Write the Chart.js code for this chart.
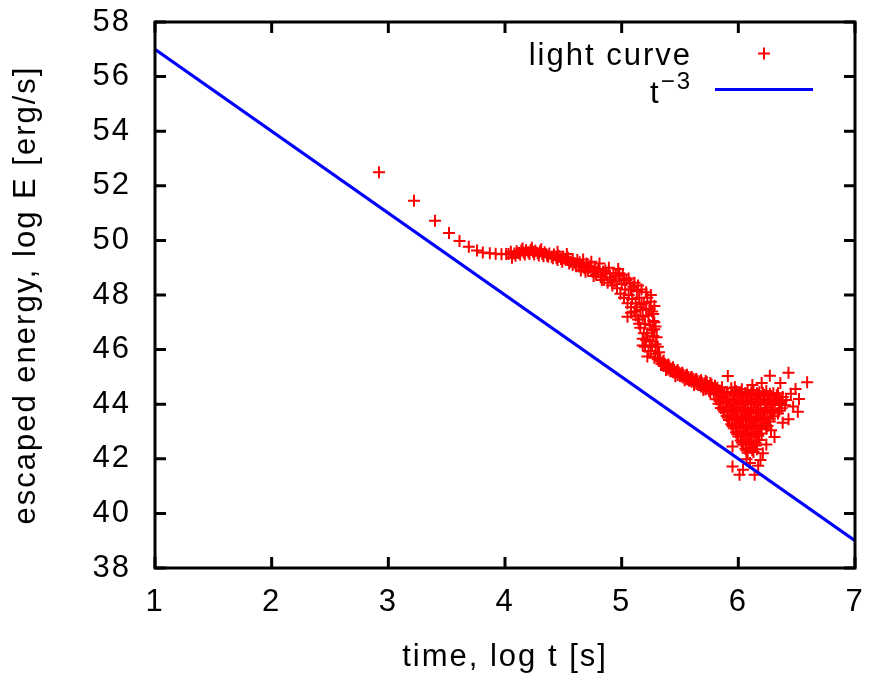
<!DOCTYPE html>
<html>
<head>
<meta charset="utf-8">
<script src="https://cdn.jsdelivr.net/npm/chart.js@4/dist/chart.umd.min.js"></script>
<style>
html, body { margin: 0; padding: 0; background: #fff; }
#zone { width: 871px; height: 685px; }
</style>
</head>
<body>
<div id="zone"><canvas id="graphe" width="871" height="685"></canvas></div>
<script>
// Graduations des axes
var V_xTicks = [1, 2, 3, 4, 5, 6, 7];
var V_yTicks = [38, 40, 42, 44, 46, 48, 50, 52, 54, 56, 58];

// Droite t^-3 (log t, log E)
var V_droiteT = [1, 7];
var V_droiteE = [57, 39];

// Courbe de lumière : [log t, log E]
var V_lightCurve = [
    [2.92, 52.50], [3.22, 51.45], [3.40, 50.72], [3.52, 50.27], [3.61, 49.98], [3.69, 49.77],
    [3.76, 49.63], [3.81, 49.56], [3.87, 49.53], [3.92, 49.51], [3.97, 49.49], [4.01, 49.50],
    [4.06, 49.36],
    [4.03, 49.50], [4.05, 49.58], [4.08, 49.52], [4.10, 49.60], [4.12, 49.54], [4.14, 49.63],
    [4.16, 49.56], [4.18, 49.64], [4.20, 49.57], [4.22, 49.65], [4.24, 49.58], [4.26, 49.62],
    [4.28, 49.53], [4.30, 49.60], [4.32, 49.50], [4.34, 49.57], [4.36, 49.45], [4.38, 49.52],
    [4.40, 49.40], [4.42, 49.48], [4.44, 49.36], [4.46, 49.44], [4.48, 49.32], [4.50, 49.40],
    [4.52, 49.28], [4.53, 49.50], [4.54, 49.36], [4.56, 49.22], [4.58, 49.32], [4.60, 49.16],
    [4.62, 49.28], [4.63, 49.05], [4.64, 49.20], [4.66, 49.10], [4.67, 49.30], [4.68, 48.98],
    [4.70, 49.15], [4.71, 48.90], [4.73, 49.05], [4.74, 49.22], [4.75, 48.85], [4.77, 49.00],
    [4.78, 48.75], [4.80, 48.95], [4.81, 49.15], [4.82, 48.65], [4.84, 48.85], [4.85, 48.55],
    [4.87, 48.78], [4.88, 48.45], [4.89, 49.00], [4.90, 48.65], [4.92, 48.35], [4.93, 48.80],
    [4.94, 48.50], [4.96, 48.25], [4.97, 48.95], [4.98, 48.60], [4.99, 48.05], [5.00, 48.40],
    [5.01, 48.75], [5.02, 47.90], [5.03, 48.20], [5.04, 48.55], [5.05, 47.70], [5.05, 47.20],
    [5.06, 48.00], [5.07, 48.45], [5.08, 47.55], [5.09, 47.85], [5.10, 48.30], [5.11, 47.40],
    [5.12, 47.70], [5.13, 48.15], [5.13, 47.55], [5.14, 47.10], [5.15, 47.90], [5.16, 46.80],
    [5.16, 47.45], [5.17, 48.20], [5.18, 46.40], [5.18, 47.20], [5.19, 47.70], [5.20, 46.95],
    [5.20, 46.10], [5.21, 47.50], [5.21, 48.10], [5.22, 46.60], [5.22, 45.75], [5.23, 47.25],
    [5.24, 46.30], [5.24, 46.90], [5.25, 47.75], [5.25, 45.95], [5.26, 47.40], [5.25, 48.00],
    [5.27, 46.50], [5.27, 47.05], [5.28, 45.70], [5.28, 46.75], [5.27, 47.30], [5.29, 46.20],
    [5.28, 47.00], [5.30, 46.45], [5.31, 45.65], [5.29, 46.85], [5.32, 45.90], [5.31, 46.10],
    [4.09, 49.44], [4.13, 49.47], [4.17, 49.48], [4.21, 49.50], [4.25, 49.48], [4.29, 49.45],
    [4.33, 49.42], [4.37, 49.40], [4.41, 49.35], [4.45, 49.28], [4.49, 49.22], [4.15, 49.70],
    [4.23, 49.73], [4.31, 49.68], [4.45, 49.58],
    [4.55, 49.15], [4.58, 49.10], [4.61, 49.05], [4.65, 48.90], [4.69, 48.85], [4.72, 49.00],
    [4.76, 48.70], [4.79, 48.85], [4.83, 48.55], [4.86, 48.90], [4.91, 48.55], [4.95, 48.70],
    [4.98, 48.80], [5.02, 48.55], [5.06, 48.60], [5.08, 48.20], [5.11, 48.45], [5.14, 48.35],
    [5.17, 47.65], [5.19, 46.60], [5.21, 46.35], [5.23, 45.95], [5.26, 46.15], [5.29, 45.85],
    [5.08, 47.35], [5.12, 47.25], [5.15, 46.95], [5.18, 46.15], [5.26, 46.70], [5.24, 47.50],
    [5.28, 47.60], [5.22, 47.90],
    [5.33, 45.58], [5.34, 45.48], [5.35, 45.55], [5.36, 45.40], [5.37, 45.47], [5.38, 45.33],
    [5.39, 45.41], [5.40, 45.27], [5.41, 45.35], [5.42, 45.22], [5.43, 45.30], [5.44, 45.17],
    [5.45, 45.25], [5.46, 45.12], [5.47, 45.20], [5.48, 45.07], [5.49, 45.16], [5.50, 45.03],
    [5.51, 45.12], [5.52, 44.99], [5.53, 45.08], [5.54, 44.95], [5.55, 45.04], [5.56, 44.91],
    [5.57, 45.00], [5.58, 44.86], [5.59, 44.97], [5.60, 44.82], [5.61, 44.93], [5.62, 44.78],
    [5.63, 44.90], [5.64, 44.74], [5.65, 44.86], [5.66, 44.70], [5.67, 44.83], [5.68, 44.65],
    [5.69, 44.79], [5.70, 44.60], [5.71, 44.76], [5.72, 44.55], [5.73, 44.80], [5.74, 44.66],
    [5.75, 44.48], [5.77, 44.72], [5.78, 44.58], [5.80, 44.68], [5.82, 44.60],
    [5.36, 45.60], [5.40, 45.45], [5.44, 45.35], [5.48, 45.25], [5.52, 45.15], [5.56, 45.08],
    [5.60, 45.00], [5.64, 44.92], [5.68, 44.88], [5.72, 44.85], [5.76, 44.78], [5.80, 44.55],
    [5.38, 45.25], [5.46, 45.02], [5.54, 44.88], [5.62, 44.70], [5.70, 44.52],
    [5.83, 44.50], [5.86, 44.62], [5.90, 44.45], [5.94, 44.58], [5.98, 44.48], [6.03, 44.55],
    [6.08, 44.46], [6.13, 44.52], [6.18, 44.44], [6.24, 44.48], [6.30, 44.40],
    [5.79, 44.36], [5.85, 44.30], [5.91, 44.38], [5.97, 44.32], [6.02, 44.36], [6.07, 44.30],
    [6.12, 44.37], [6.17, 44.31], [6.22, 44.35], [6.28, 44.28], [6.33, 44.33], [6.38, 44.26],
    [5.81, 44.18], [5.87, 44.22], [5.93, 44.15], [5.99, 44.20], [6.04, 44.14], [6.10, 44.21],
    [6.15, 44.16], [6.21, 44.19], [6.26, 44.13], [6.32, 44.17], [6.37, 44.12], [6.41, 44.15],
    [5.83, 44.02], [5.89, 44.06], [5.95, 44.00], [6.00, 44.05], [6.06, 43.99], [6.11, 44.04],
    [6.17, 43.98], [6.23, 44.03], [6.29, 43.97], [6.35, 44.02], [6.40, 43.96],
    [5.85, 43.86], [5.91, 43.90], [5.97, 43.84], [6.02, 43.89], [6.08, 43.83], [6.13, 43.88],
    [6.19, 43.82], [6.25, 43.87], [6.31, 43.81], [6.37, 43.85],
    [5.88, 43.72], [5.94, 43.75], [5.99, 43.69], [6.05, 43.74], [6.10, 43.68], [6.16, 43.73],
    [6.22, 43.67], [6.28, 43.72], [6.34, 43.66],
    [5.90, 43.57], [5.96, 43.60], [6.02, 43.54], [6.07, 43.59], [6.13, 43.53], [6.19, 43.58],
    [6.25, 43.52], [6.30, 43.56],
    [5.92, 43.42], [5.98, 43.45], [6.04, 43.39], [6.09, 43.44], [6.15, 43.38], [6.21, 43.43],
    [6.27, 43.37],
    [5.94, 43.27], [6.00, 43.30], [6.06, 43.24], [6.11, 43.29], [6.17, 43.23], [6.23, 43.28],
    [5.96, 43.12], [6.02, 43.15], [6.08, 43.09], [6.13, 43.14], [6.19, 43.08], [6.24, 43.12],
    [5.98, 42.97], [6.04, 43.00], [6.09, 42.94], [6.15, 42.99], [6.20, 42.93],
    [6.00, 42.82], [6.05, 42.85], [6.11, 42.79], [6.17, 42.84],
    [6.02, 42.67], [6.07, 42.70], [6.13, 42.64], [6.18, 42.69],
    [6.04, 42.52], [6.09, 42.55], [6.15, 42.49],
    [6.06, 42.37], [6.11, 42.40], [6.16, 42.35],
    [6.08, 42.22], [6.13, 42.25],
    [5.76, 44.40], [5.82, 44.45], [5.88, 44.40], [5.95, 44.42], [6.01, 44.44], [6.06, 44.41],
    [6.11, 44.43], [6.16, 44.40], [6.21, 44.42], [6.27, 44.38], [6.34, 44.40],
    [5.84, 44.12], [5.90, 44.10], [5.96, 44.12], [6.02, 44.09], [6.08, 44.11], [6.14, 44.08],
    [6.19, 44.10], [6.25, 44.07], [6.31, 44.09], [6.36, 44.06],
    [5.87, 43.80], [5.93, 43.81], [5.99, 43.79], [6.05, 43.80], [6.11, 43.78], [6.17, 43.79],
    [6.23, 43.77], [6.29, 43.78], [6.35, 43.76],
    [5.91, 43.50], [5.97, 43.51], [6.03, 43.49], [6.09, 43.50], [6.15, 43.48], [6.21, 43.49],
    [6.27, 43.47],
    [5.95, 43.20], [6.01, 43.21], [6.07, 43.19], [6.13, 43.20], [6.19, 43.18], [6.25, 43.20],
    [5.99, 42.90], [6.05, 42.91], [6.11, 42.89], [6.17, 42.90],
    [6.03, 42.60], [6.09, 42.61], [6.15, 42.59],
    [6.07, 42.30], [6.12, 42.31],
    [5.91, 45.03], [6.27, 45.04], [6.43, 45.15], [6.59, 44.80], [6.36, 44.78], [6.12, 44.70],
    [6.49, 44.56], [6.52, 44.19], [6.51, 43.72], [6.43, 43.45], [6.31, 42.80], [5.95, 42.45],
    [5.95, 41.72], [6.01, 41.42], [6.14, 41.42], [6.19, 41.96], [6.10, 41.85], [6.07, 41.98],
    [5.97, 44.62], [6.20, 44.78], [6.45, 44.38], [6.47, 43.92], [6.38, 43.32], [6.28, 43.05],
    [6.24, 42.52], [6.21, 42.20], [6.17, 41.75], [6.04, 41.60]
];

var S_police = '"Liberation Sans", Arial, Helvetica, sans-serif';

function F_points(V_liste){
    var V_res = [];
    for (var I_i = 0; I_i < V_liste.length; I_i++){ V_res.push({x: V_liste[I_i][0], y: V_liste[I_i][1]}); }
    return V_res;
}

function F_droite(){
    var V_res = [];
    for (var I_i = 0; I_i < V_droiteT.length; I_i++){ V_res.push({x: V_droiteT[I_i], y: V_droiteE[I_i]}); }
    return V_res;
}

// Cadre, ticks intérieurs et légende façon gnuplot
var O_cadre = {
    id: 'cadre',
    beforeUpdate: function(chart){ chart.ctx.letterSpacing = '2px'; },
    beforeDraw: function(chart){ chart.ctx.letterSpacing = '2px'; },
    afterDraw: function(chart){
        var ctx = chart.ctx;
        var a = chart.chartArea;
        var sx = chart.scales.x, sy = chart.scales.y;
        ctx.save();
        ctx.strokeStyle = '#000';
        ctx.lineWidth = 3;
        ctx.beginPath();
        V_xTicks.forEach(function(v){
            var p = sx.getPixelForValue(v);
            ctx.moveTo(p, a.bottom); ctx.lineTo(p, a.bottom - 11);
            ctx.moveTo(p, a.top); ctx.lineTo(p, a.top + 11);
        });
        V_yTicks.forEach(function(v){
            var p = sy.getPixelForValue(v);
            ctx.moveTo(a.left, p); ctx.lineTo(a.left + 11, p);
            ctx.moveTo(a.right, p); ctx.lineTo(a.right - 11, p);
        });
        ctx.stroke();
        ctx.strokeRect(a.left, a.top, a.right - a.left, a.bottom - a.top);

        // légende
        ctx.fillStyle = '#000';
        ctx.letterSpacing = '2px';
        ctx.textAlign = 'right';
        ctx.textBaseline = 'alphabetic';
        ctx.font = '31px ' + S_police;
        ctx.fillText('light curve', a.right - 163, a.top + 43);
        ctx.font = '24px ' + S_police;
        ctx.fillText('\u22123', a.right - 163, a.top + 67);
        var I_w = ctx.measureText('\u22123').width;
        ctx.font = '31px ' + S_police;
        ctx.fillText('t', a.right - 163 - I_w, a.top + 81);

        ctx.strokeStyle = '#ff0000';
        ctx.lineWidth = 2;
        ctx.beginPath();
        ctx.moveTo(a.right - 97, a.top + 31.5); ctx.lineTo(a.right - 85, a.top + 31.5);
        ctx.moveTo(a.right - 91, a.top + 25.5); ctx.lineTo(a.right - 91, a.top + 37.5);
        ctx.stroke();

        ctx.strokeStyle = '#0000ff';
        ctx.lineWidth = 3;
        ctx.beginPath();
        ctx.moveTo(a.right - 140, a.top + 67.5); ctx.lineTo(a.right - 42, a.top + 67.5);
        ctx.stroke();
        ctx.restore();
    }
};

var O_config = {
    type: 'scatter',
    data: {
        datasets: [
            {
                label: 't^-3',
                type: 'line',
                data: F_droite(),
                borderColor: '#0000ff',
                borderWidth: 3,
                pointRadius: 0,
                fill: false,
                order: 0
            },
            {
                label: 'light curve',
                data: F_points(V_lightCurve),
                pointStyle: 'cross',
                pointRadius: 6,
                pointBorderWidth: 2,
                borderColor: '#ff0000',
                backgroundColor: '#ff0000',
                order: 1
            }
        ]
    },
    options: {
        responsive: false,
        devicePixelRatio: 1,
        animation: false,
        layout: { padding: { top: 22, right: 16, left: 0, bottom: 0 } },
        plugins: {
            legend: { display: false },
            tooltip: { enabled: false }
        },
        scales: {
            x: {
                type: 'linear',
                min: 1,
                max: 7,
                afterBuildTicks: function(scale){ scale.ticks = V_xTicks.map(function(v){ return {value: v}; }); },
                afterFit: function(scale){ scale.height = 117; },
                grid: { display: false, drawTicks: true, tickLength: 16 },
                border: { display: false },
                ticks: { color: '#000', padding: 0, font: { family: S_police, size: 31 }, maxRotation: 0 },
                title: { display: true, text: 'time, log t [s]', color: '#000', padding: { top: 0, bottom: 9 }, font: { family: S_police, size: 31 } }
            },
            y: {
                type: 'linear',
                min: 38,
                max: 58,
                afterBuildTicks: function(scale){ scale.ticks = V_yTicks.map(function(v){ return {value: v}; }); },
                afterFit: function(scale){ scale.width = 155; },
                grid: { display: false, drawTicks: true, tickLength: 24 },
                border: { display: false },
                ticks: { color: '#000', padding: 0, font: { family: S_police, size: 31 } },
                title: { display: true, text: 'escaped energy, log E [erg/s]', color: '#000', padding: { top: 8, bottom: 0 }, font: { family: S_police, size: 31 } }
            }
        }
    },
    plugins: [O_cadre]
};

var O_graphe = new Chart(document.getElementById('graphe').getContext('2d'), O_config);
</script>
</body>
</html>
